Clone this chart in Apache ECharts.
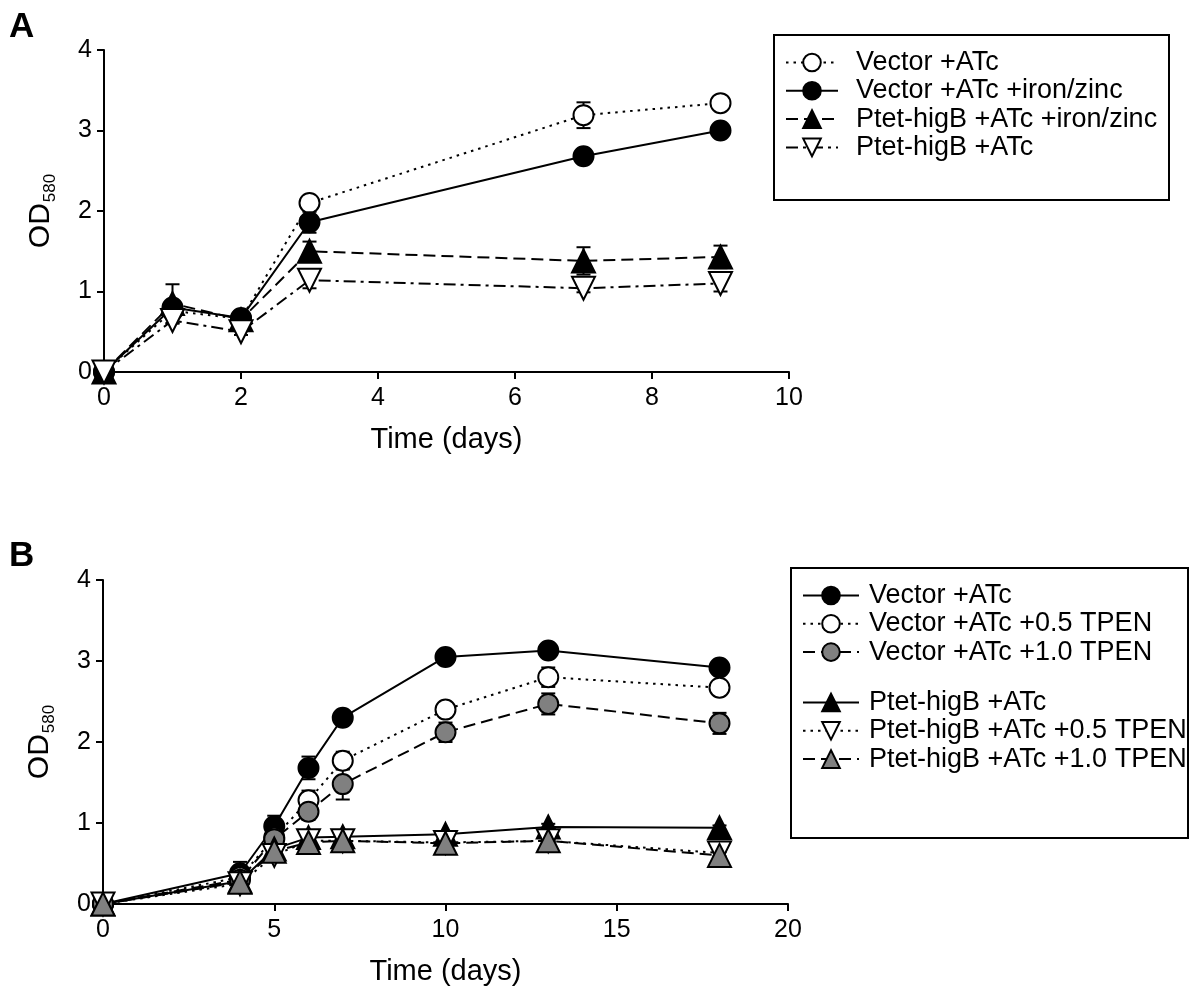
<!DOCTYPE html>
<html>
<head>
<meta charset="utf-8">
<script src="https://cdn.jsdelivr.net/npm/echarts@6/dist/echarts.min.js"></script>
<style>
html,body{margin:0;padding:0;background:#fff;}
#c{width:1192px;height:987px;}
</style>
</head>
<body>
<div id="c"></div>
<script>
// ---------- Panel A data ----------
const daysA = [0, 1, 2, 3, 7, 9];
const namesA = ['Vector +ATc', 'Vector +ATc +iron/zinc', 'Ptet-higB +ATc +iron/zinc', 'Ptet-higB +ATc'];
const a_vec = [0, 0.76, 0.66, 2.1, 3.19, 3.34];
const a_vec_err = [0, 0.05, 0.04, 0.05, 0.16, 0.04];
const a_vecFeZn = [0, 0.8, 0.67, 1.86, 2.68, 3.0];
const a_vecFeZn_err = [0, 0.05, 0.04, 0.13, 0.04, 0.04];
const a_higFeZn = [0, 0.85, 0.65, 1.5, 1.38, 1.43];
const a_higFeZn_err = [0, 0.24, 0.05, 0.12, 0.17, 0.14];
const a_hig = [0, 0.64, 0.5, 1.14, 1.04, 1.1];
const a_hig_err = [0, 0.04, 0.04, 0.1, 0.05, 0.1];
const ticksAx = [0, 2, 4, 6, 8, 10];
const ticksY = [0, 1, 2, 3, 4];

// ---------- Panel B data ----------
const daysB = [0, 4, 5, 6, 7, 10, 13, 18];
const namesB = ['Vector +ATc', 'Vector +ATc +0.5 TPEN', 'Vector +ATc +1.0 TPEN', 'Ptet-higB +ATc', 'Ptet-higB +ATc +0.5 TPEN', 'Ptet-higB +ATc +1.0 TPEN'];
const b_vec = [0, 0.38, 0.96, 1.68, 2.3, 3.05, 3.13, 2.92];
const b_vec_err = [0, 0.14, 0.13, 0.14, 0.05, 0.05, 0.05, 0.05];
const b_vec05 = [0, 0.33, 0.82, 1.28, 1.77, 2.4, 2.8, 2.67];
const b_vec05_err = [0, 0.1, 0.1, 0.12, 0.11, 0.06, 0.12, 0.05];
const b_vec10 = [0, 0.3, 0.8, 1.14, 1.48, 2.12, 2.47, 2.23];
const b_vec10_err = [0, 0.1, 0.1, 0.1, 0.19, 0.12, 0.13, 0.13];
const b_hig = [0, 0.28, 0.68, 0.82, 0.83, 0.86, 0.95, 0.94];
const b_hig_err = [0, 0.04, 0.04, 0.05, 0.04, 0.04, 0.04, 0.03];
const b_hig05 = [0, 0.25, 0.6, 0.78, 0.78, 0.76, 0.78, 0.63];
const b_hig05_err = [0, 0.04, 0.04, 0.04, 0.04, 0.04, 0.04, 0.04];
const b_hig10 = [0, 0.27, 0.65, 0.76, 0.78, 0.75, 0.78, 0.6];
const b_hig10_err = [0, 0.04, 0.04, 0.04, 0.04, 0.04, 0.04, 0.04];
const ticksBx = [0, 5, 10, 15, 20];

const FONT = '"Liberation Sans", Arial, Helvetica, sans-serif';
const DOT = [2.5, 5];
const DASH = [12, 6];
const DASHDOT = [12, 5, 3, 5];

function pts(xs, ys) { return xs.map((x, i) => [x, ys[i]]); }
function errPts(xs, ys, es) { return xs.map((x, i) => [x, ys[i], es[i]]); }

function lineSeries(name, idx, xs, ys, symbol, fill, dash, rotate) {
  return {
    type: 'line', name: name, xAxisIndex: idx, yAxisIndex: idx,
    data: pts(xs, ys), symbol: symbol, symbolSize: symbol === 'circle' ? 20 : 23,
    symbolRotate: rotate || 0, z: 3, clip: false,
    itemStyle: { color: fill, borderColor: '#000', borderWidth: 2 },
    lineStyle: { color: '#000', width: 2, type: dash },
    emphasis: { disabled: true }, animation: false
  };
}
function errSeries(idx, xs, ys, es) {
  return {
    type: 'custom', xAxisIndex: idx, yAxisIndex: idx, z: 2, animation: false, silent: true,
    data: errPts(xs, ys, es),
    renderItem: function (params, api) {
      const x = api.value(0), y = api.value(1), e = api.value(2);
      if (!e) return null;
      const t = api.coord([x, y + e]);
      const b = api.coord([x, y - e]);
      const w = 7;
      const st = { stroke: '#000', lineWidth: 2 };
      return {
        type: 'group', children: [
          { type: 'line', shape: { x1: t[0], y1: t[1], x2: b[0], y2: b[1] }, style: st },
          { type: 'line', shape: { x1: t[0] - w, y1: t[1], x2: t[0] + w, y2: t[1] }, style: st },
          { type: 'line', shape: { x1: b[0] - w, y1: b[1], x2: b[0] + w, y2: b[1] }, style: st }
        ]
      };
    }
  };
}

function xAxis(idx, max, interval) {
  return {
    type: 'value', gridIndex: idx, min: 0, max: max, interval: interval,
    name: 'Time (days)', nameLocation: 'middle', nameGap: 53,
    nameTextStyle: { fontSize: 29, color: '#000', fontFamily: FONT },
    axisLine: { show: true, onZero: false, lineStyle: { color: '#000', width: 2 } },
    axisTick: { show: true, length: 7, lineStyle: { color: '#000', width: 2 } },
    axisLabel: { fontSize: 25, color: '#000', fontFamily: FONT, margin: 14 },
    splitLine: { show: false }
  };
}
function yAxis(idx) {
  return {
    type: 'value', gridIndex: idx, min: 0, max: 4, interval: 1,
    name: '{a|OD}{b|580}', nameLocation: 'middle', nameGap: 48,
    nameTextStyle: {
      color: '#000', fontFamily: FONT,
      rich: {
        a: { fontSize: 30, color: '#000', fontFamily: FONT },
        b: { fontSize: 17, color: '#000', fontFamily: FONT, verticalAlign: 'bottom', padding: [0, 0, -3, 1] }
      }
    },
    axisLine: { show: true, onZero: false, lineStyle: { color: '#000', width: 2 } },
    axisTick: { show: true, length: 7, lineStyle: { color: '#000', width: 2 } },
    axisLabel: { fontSize: 25, color: '#000', fontFamily: FONT, margin: 12 },
    splitLine: { show: false }
  };
}

function legendOpt(left, top, data, width, pad) {
  return {
    orient: 'vertical', left: left, top: top, data: data,
    itemWidth: width, itemHeight: 22, itemGap: 1.3, selectedMode: false, padding: 0,
    formatter: function (n) { return n.replace(/^[AB]\|/, ''); },
    textStyle: { fontSize: 27, color: '#000', fontFamily: FONT, padding: [0, 0, 0, pad] }
  };
}

const chart = echarts.init(document.getElementById('c'), null, { renderer: 'canvas' });
chart.setOption({
  backgroundColor: '#fff',
  animation: false,
  grid: [
    { left: 104, top: 50, width: 685, height: 322 },
    { left: 103, top: 580, width: 685, height: 324 }
  ],
  xAxis: [xAxis(0, 10, 2), xAxis(1, 20, 5)],
  yAxis: [yAxis(0), yAxis(1)],
  legend: [
    legendOpt(785, 49, namesA.map(n => 'A|' + n), 52, 13),
    legendOpt(802, 582, namesB.slice(0, 3).map(n => 'B|' + n), 56, 5),
    legendOpt(802, 689, namesB.slice(3).map(n => 'B|' + n), 56, 5)
  ],
  graphic: [
    { type: 'rect', shape: { x: 774, y: 35, width: 395, height: 165 }, style: { fill: 'none', stroke: '#000', lineWidth: 2 } },
    { type: 'rect', shape: { x: 791, y: 568, width: 397, height: 270 }, style: { fill: 'none', stroke: '#000', lineWidth: 2 } },
    { type: 'text', left: 9, top: 10, style: { text: 'A', font: 'bold 35px ' + FONT, fill: '#000' } },
    { type: 'text', left: 9, top: 539, style: { text: 'B', font: 'bold 35px ' + FONT, fill: '#000' } }
  ],
  series: [
    errSeries(0, daysA, a_vec, a_vec_err),
    errSeries(0, daysA, a_vecFeZn, a_vecFeZn_err),
    errSeries(0, daysA, a_higFeZn, a_higFeZn_err),
    errSeries(0, daysA, a_hig, a_hig_err),
    lineSeries('A|' + namesA[0], 0, daysA, a_vec, 'circle', '#fff', DOT),
    lineSeries('A|' + namesA[1], 0, daysA, a_vecFeZn, 'circle', '#000', 'solid'),
    lineSeries('A|' + namesA[2], 0, daysA, a_higFeZn, 'triangle', '#000', DASH),
    lineSeries('A|' + namesA[3], 0, daysA, a_hig, 'triangle', '#fff', DASHDOT, 180),

    errSeries(1, daysB, b_vec, b_vec_err),
    errSeries(1, daysB, b_vec05, b_vec05_err),
    errSeries(1, daysB, b_vec10, b_vec10_err),
    errSeries(1, daysB, b_hig, b_hig_err),
    errSeries(1, daysB, b_hig05, b_hig05_err),
    errSeries(1, daysB, b_hig10, b_hig10_err),
    lineSeries('B|' + namesB[0], 1, daysB, b_vec, 'circle', '#000', 'solid'),
    lineSeries('B|' + namesB[1], 1, daysB, b_vec05, 'circle', '#fff', DOT),
    lineSeries('B|' + namesB[2], 1, daysB, b_vec10, 'circle', '#808080', DASH),
    lineSeries('B|' + namesB[3], 1, daysB, b_hig, 'triangle', '#000', 'solid'),
    lineSeries('B|' + namesB[4], 1, daysB, b_hig05, 'triangle', '#fff', DOT, 180),
    lineSeries('B|' + namesB[5], 1, daysB, b_hig10, 'triangle', '#808080', DASH)
  ]
});
</script>
</body>
</html>
